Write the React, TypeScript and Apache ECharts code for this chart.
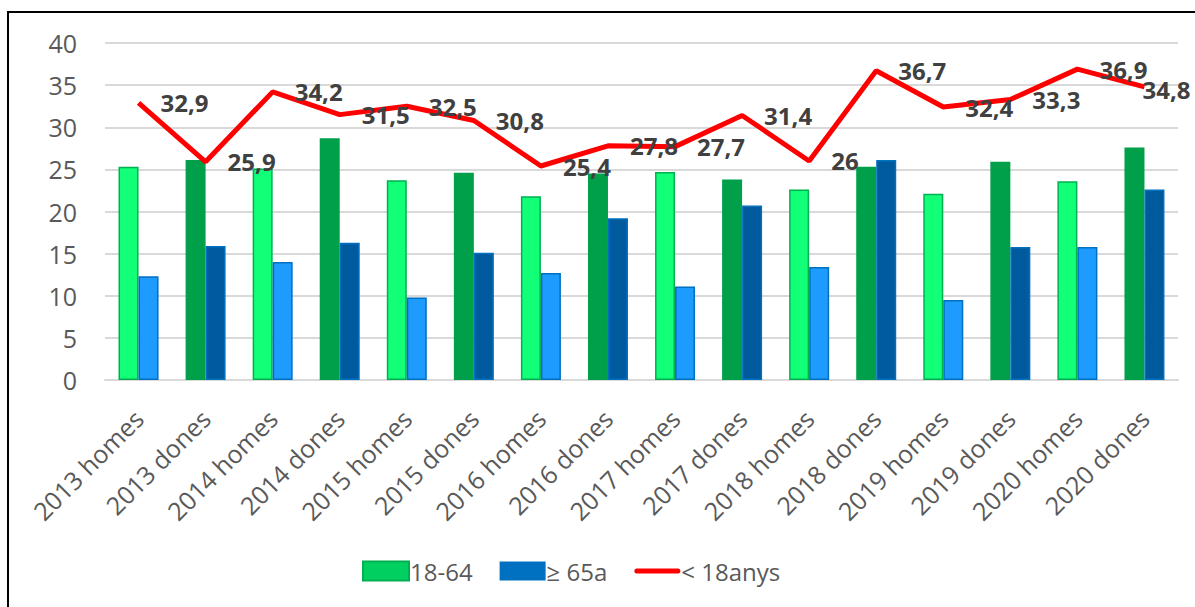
import React, { useEffect, useRef } from "react";
import * as echarts from "echarts";

const categories = [
  "2013 homes", "2013 dones", "2014 homes", "2014 dones",
  "2015 homes", "2015 dones", "2016 homes", "2016 dones",
  "2017 homes", "2017 dones", "2018 homes", "2018 dones",
  "2019 homes", "2019 dones", "2020 homes", "2020 dones",
];
const adults = [25.3, 26.1, 25.1, 28.7, 23.7, 24.6, 21.8, 24.5, 24.7, 23.8, 22.6, 25.3, 22.1, 25.9, 23.6, 27.6];
const seniors = [12.3, 15.9, 14.0, 16.3, 9.8, 15.1, 12.7, 19.2, 11.1, 20.7, 13.4, 26.1, 9.5, 15.8, 15.8, 22.6];
const minors = [32.9, 25.9, 34.2, 31.5, 32.5, 30.8, 25.4, 27.8, 27.7, 31.4, 26, 36.7, 32.4, 33.3, 36.9, 34.8];
const seriesNames = ["18-64", "≥ 65a", "< 18anys"];

const FONT = "'Open Sans', sans-serif";

export default function App() {
  const ref = useRef<HTMLDivElement>(null);
  useEffect(() => {
    if (!ref.current) return;
    const chart = echarts.init(ref.current, null, { renderer: "svg" });
    const isHomes = (i: number) => categories[i].endsWith("homes");
    const last = minors.length - 1;
    chart.setOption({
      animation: false,
      textStyle: { fontFamily: FONT },
      graphic: [
        {
          type: "rect",
          shape: { x: 8, y: 12, width: 1400, height: 800 },
          style: { fill: "none", stroke: "#000", lineWidth: 2 },
          silent: true,
        },
      ],
      grid: { left: 105, right: 17, top: 43, bottom: 227 },
      legend: {
        data: [
          { name: seriesNames[0], icon: "rect" },
          { name: seriesNames[1], icon: "rect" },
          { name: seriesNames[2], icon: "path://M2.5,0 L43.5,0 A2.5,2.5 0 0 1 43.5,5 L2.5,5 A2.5,2.5 0 0 1 2.5,0 Z" },
        ],
        symbolKeepAspect: true,
        bottom: 19,
        left: 357,
        itemWidth: 46,
        itemHeight: 19,
        itemGap: 27,
        textStyle: { fontSize: 24, color: "#595959", fontFamily: FONT, padding: [0, 0, 0, -4] },
      },
      xAxis: {
        type: "category",
        data: categories,
        axisTick: { show: false },
        axisLine: { lineStyle: { color: "#d9d9d9", width: 2 } },
        axisLabel: { rotate: 45, fontSize: 25, color: "#595959", fontFamily: FONT, margin: 34, interval: 0 },
      },
      yAxis: {
        type: "value",
        min: 0,
        max: 40,
        interval: 5,
        axisLabel: { fontSize: 25, color: "#595959", fontFamily: FONT, margin: 28 },
        splitLine: { lineStyle: { color: "#d9d9d9", width: 2 } },
      },
      series: [
        {
          name: seriesNames[0],
          type: "bar",
          barWidth: 20,
          barGap: "0%",
          itemStyle: { color: "#00D060", borderColor: "#00B050", borderWidth: 1 },
          data: adults.map((v, i) => ({
            value: v,
            itemStyle: isHomes(i)
              ? { color: "#12FF78", borderColor: "#00B050", borderWidth: 1.5 }
              : { color: "#00A04A", borderColor: "#00A04A", borderWidth: 1.5 },
          })),
        },
        {
          name: seriesNames[1],
          type: "bar",
          barWidth: 20,
          barGap: "0%",
          itemStyle: { color: "#0070C0", borderWidth: 0 },
          data: seniors.map((v, i) => ({
            value: v,
            itemStyle: isHomes(i)
              ? { color: "#1E9BFF", borderColor: "#0070C0", borderWidth: 1.5 }
              : { color: "#005A9E", borderColor: "#0070C0", borderWidth: 1.5 },
          })),
        },
        {
          name: seriesNames[2],
          type: "line",
          symbol: "circle",
          symbolSize: 0.01,
          showSymbol: true,
          z: 5,
          itemStyle: { color: "#FF0000" },
          lineStyle: { color: "#FF0000", width: 5 },
          label: {
            show: true,
            position: "right",
            distance: 22,
            fontSize: 24,
            fontWeight: "bold",
            color: "#404040",
            fontFamily: FONT,
            formatter: (p: any) => String(p.value).replace(".", ","),
          },
          data: minors.map((v, i) =>
            i === last
              ? { value: v, label: { distance: 0, offset: [-2, 3] } }
              : v
          ),
        },
      ],
    });
    return () => chart.dispose();
  }, []);
  return (
    <div
      ref={ref}
      style={{ position: "absolute", left: 0, top: 0, width: 1195, height: 607 }}
    />
  );
}
